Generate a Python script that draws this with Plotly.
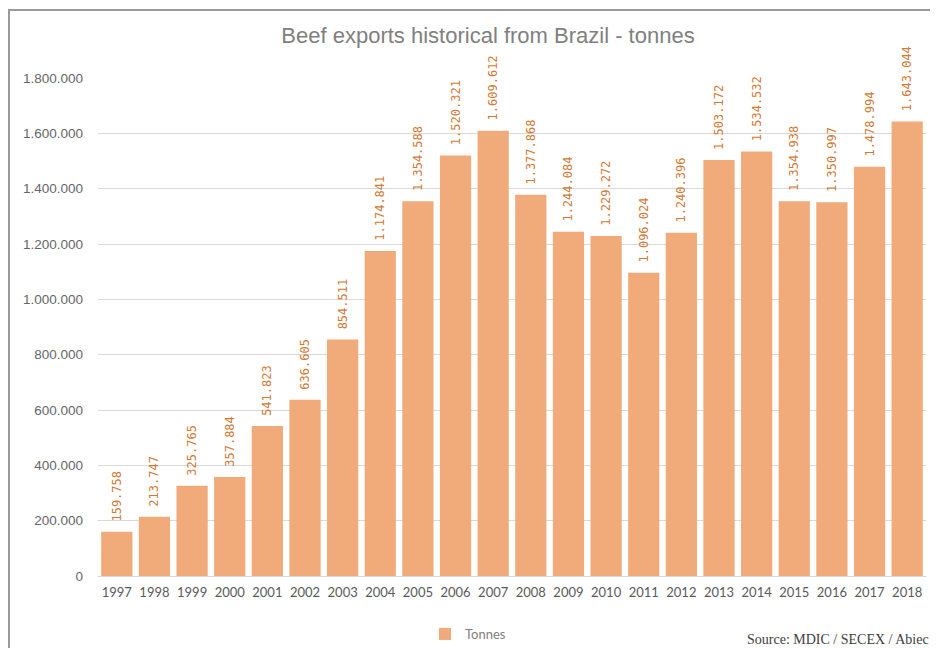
import plotly.graph_objects as go

years = [str(y) for y in range(1997, 2019)]
tonnes = [159758, 213747, 325765, 357884, 541823, 636605, 854511, 1174841,
          1354588, 1520321, 1609612, 1377868, 1244084, 1229272, 1096024,
          1240396, 1503172, 1534532, 1354938, 1350997, 1478994, 1643044]
y_ticks = [0, 200000, 400000, 600000, 800000, 1000000, 1200000, 1400000, 1600000, 1800000]

OFF = 8  # page body margin
W, H = 938 - OFF, 648 - OFF
L, R, T, B = 98 - OFF, 12, 78 - OFF, 72
pw, ph = W - L - R, H - T - B

def px(x):
    return (x - OFF - L) / pw

def py(y):
    return (H - B - (y - OFF)) / ph

fig = go.Figure(go.Bar(
    x=years, y=tonnes, name="Tonnes",
    marker=dict(color="#F1AB7B", line=dict(width=0)),
    texttemplate="\u00a0%{y:,d}", textposition="outside", textangle=-90,
    constraintext="none",
    textfont=dict(family="DejaVu Sans Mono", size=12, color="#CF7A35"),
    cliponaxis=False,
))

fig.update_layout(
    width=W, height=H,
    margin=dict(l=L, r=R, t=T, b=B, autoexpand=False),
    paper_bgcolor="white", plot_bgcolor="white",
    separators=",.",
    bargap=0.17,
    title=dict(text="Beef exports historical from Brazil - tonnes",
               xref="container", x=(488 - OFF) / W, xanchor="center",
               y=1 - (35 - OFF) / H, yanchor="middle",
               font=dict(family="Liberation Sans", size=22, color="#808080")),
    xaxis=dict(showgrid=False, showline=True, linecolor="#D9D9D9", linewidth=1,
               ticks="", ticklabelstandoff=4,
               tickfont=dict(family="Lato", size=13, color="#595959")),
    yaxis=dict(range=[0, 1800000], tickvals=y_ticks, tickformat=",d",
               showgrid=True, gridcolor="#D9D9D9", gridwidth=1, zeroline=False,
               ticks="", ticklen=0, ticklabelstandoff=14,
               tickfont=dict(family="Liberation Sans", size=13.5, color="#666666")),
    showlegend=True,
    legend=dict(orientation="h", x=px(468), xanchor="center", y=py(634), yanchor="middle",
                font=dict(family="Lato", size=13, color="#808080"),
                itemwidth=30),
    font=dict(family="Liberation Sans"),
)

fig.add_annotation(text="Source: MDIC / SECEX / Abiec", xref="paper", yref="paper",
                   x=px(931), y=py(639), xanchor="right", yanchor="middle", showarrow=False,
                   font=dict(family="Liberation Serif", size=14, color="#404040"))

# chart frame (left and top edges)
fig.add_shape(type="line", xref="paper", yref="paper",
              x0=px(9), x1=px(9), y0=py(10), y1=py(648), line=dict(color="#9A9A9A", width=2))
fig.add_shape(type="line", xref="paper", yref="paper",
              x0=px(8), x1=px(938), y0=py(10), y1=py(10), line=dict(color="#9A9A9A", width=2))

fig.write_html("out.html")
